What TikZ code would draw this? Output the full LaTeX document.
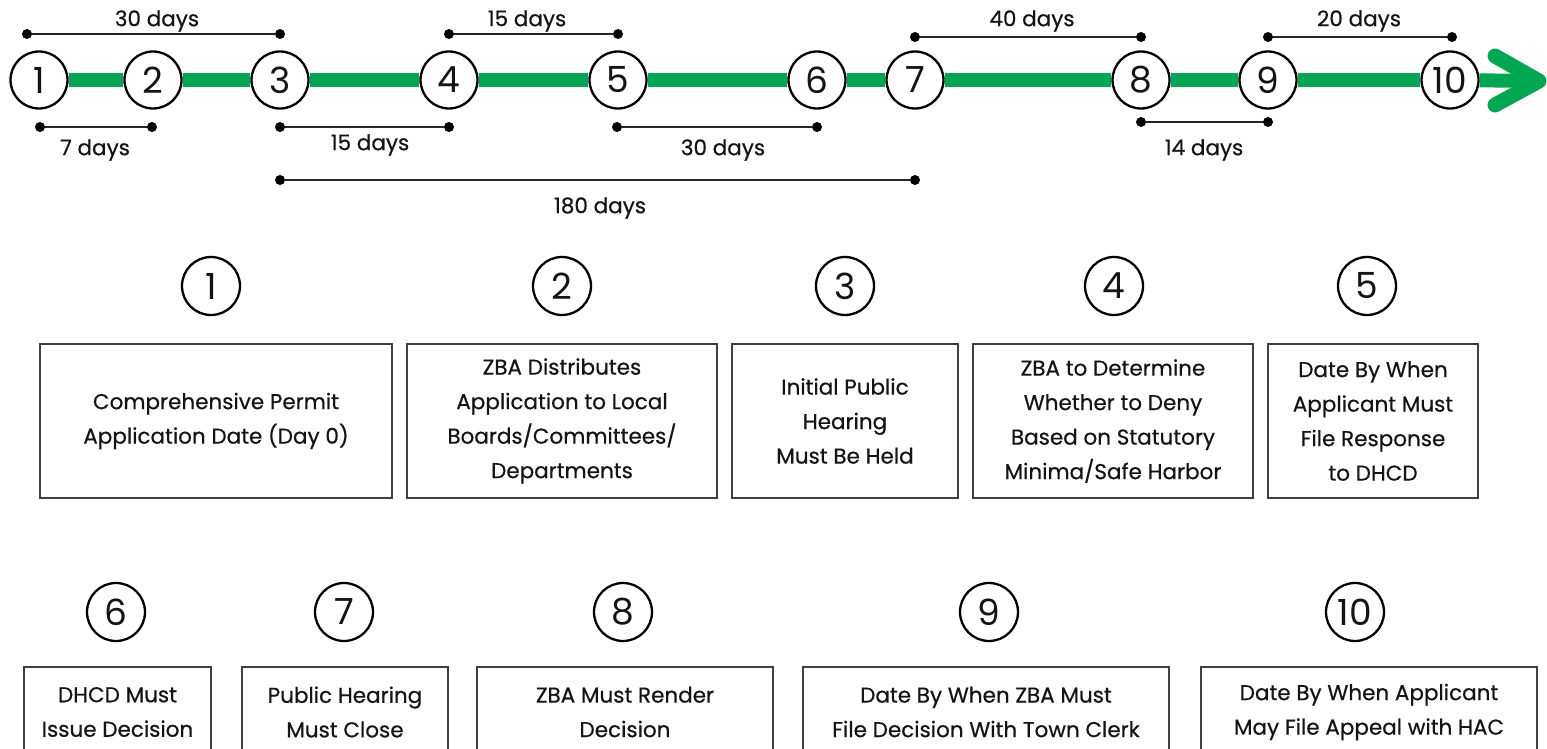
\documentclass[tikz,border=0pt]{standalone}
\usepackage{fontspec}
\setmainfont{Poppins}[FakeBold=0.5]
\newfontfamily\digitfont{Poppins}
\definecolor{tlgreen}{RGB}{0,166,81}
\definecolor{ink}{RGB}{20,20,20}
\begin{document}
\begin{tikzpicture}[x=1pt,y=-1pt,
  tl/.style={draw=black, line width=2.3pt, fill=white, circle, minimum size=57pt, inner sep=0pt, text=ink, font=\digitfont\fontsize{36}{36}\selectfont},
  num/.style={draw=black, line width=2.3pt, circle, minimum size=58pt, inner sep=0pt, text=ink, font=\digitfont\fontsize{36}{36}\selectfont},
  lab/.style={font=\fontsize{21.5}{24}\selectfont, text=ink},
  box/.style={draw=black!75, line width=1.6pt, align=center, inner sep=0pt, text=ink, font=\fontsize{21.5}{34.5}\selectfont},
  dimline/.style={line width=1.8pt, draw=black!85},
  dot/.style={circle, fill=black, inner sep=0pt, minimum size=10pt},
  green line/.style={draw=tlgreen, line width=14pt}
]
\useasboundingbox (0,0) rectangle (1547,749);

% ---------- timeline ----------
\node[tl] (c1) at (39,80) {1};
\node[tl] (c2) at (153,80) {2};
\node[tl] (c3) at (280,80) {3};
\node[tl] (c4) at (449,80) {4};
\node[tl] (c5) at (618,80) {5};
\node[tl] (c6) at (817,80) {6};
\node[tl] (c7) at (915,80) {7};
\node[tl] (c8) at (1141,80) {8};
\node[tl] (c9) at (1268,80) {9};
\node[tl] (c10) at (1450,80) {10};
\coordinate (tip) at (1539,81);
\coordinate (armA) at (1495,56);
\coordinate (armB) at (1495,105);
\draw[green line] (c1) -- (c2);
\draw[green line] (c2) -- (c3);
\draw[green line] (c3) -- (c4);
\draw[green line] (c4) -- (c5);
\draw[green line] (c5) -- (c6);
\draw[green line] (c6) -- (c7);
\draw[green line] (c7) -- (c8);
\draw[green line] (c8) -- (c9);
\draw[green line] (c9) -- (c10);
\draw[green line] (c10) -- (tip);
\draw[green line, line width=15pt, line cap=round, line join=round] (armA) -- (tip) -- (armB);

% ---------- duration bars ----------
\node[dot] (a1) at (27,34) {};   \node[dot] (a2) at (280,34) {};
\node[dot] (b1) at (449,34) {};  \node[dot] (b2) at (618,34) {};
\node[dot] (e1) at (915,37) {};  \node[dot] (e2) at (1141,37) {};
\node[dot] (f1) at (1268,37) {}; \node[dot] (f2) at (1452,37) {};
\node[dot] (g1) at (40,127) {};  \node[dot] (g2) at (152,127) {};
\node[dot] (h1) at (280,127) {}; \node[dot] (h2) at (449,127) {};
\node[dot] (i1) at (617,127) {}; \node[dot] (i2) at (817,127) {};
\node[dot] (j1) at (1141,122) {};\node[dot] (j2) at (1268,122) {};
\node[dot] (k1) at (280,180) {}; \node[dot] (k2) at (915,180) {};
\draw[dimline] (a1) -- (a2);
\draw[dimline] (b1) -- (b2);
\draw[dimline] (e1) -- (e2);
\draw[dimline] (f1) -- (f2);
\draw[dimline] (g1) -- (g2);
\draw[dimline] (h1) -- (h2);
\draw[dimline] (i1) -- (i2);
\draw[dimline] (j1) -- (j2);
\draw[dimline] (k1) -- (k2);
\node[lab] (la) at (157,21) {30 days};
\node[lab] (lb) at (527,21) {15 days};
\node[lab] (le) at (1032,21) {40 days};
\node[lab] (lf) at (1359,21) {20 days};
\node[lab] (lg) at (95,150) {7 days};
\node[lab] (lh) at (370,145) {15 days};
\node[lab] (li) at (723,150) {30 days};
\node[lab] (lj) at (1204,150) {14 days};
\node[lab] (lk) at (600,208) {180 days};

% ---------- first row of descriptions ----------
\node[num] (n1) at (211,286) {1};
\node[num] (n2) at (562,286) {2};
\node[num] (n3) at (845,286) {3};
\node[num] (n4) at (1114,286) {4};
\node[num] (n5) at (1367,286) {5};
\node[box, minimum width=352pt, minimum height=154pt] (b1box) at (216,421) {Comprehensive Permit\\Application Date (Day 0)};
\node[box, minimum width=310pt, minimum height=154pt] (b2box) at (562,421) {ZBA Distributes\\Application to Local\\Boards/Committees/\\Departments};
\node[box, minimum width=226pt, minimum height=154pt] (b3box) at (845,421) {Initial Public\\Hearing\\Must Be Held};
\node[box, minimum width=280pt, minimum height=154pt] (b4box) at (1113,421) {ZBA to Determine\\Whether to Deny\\Based on Statutory\\Minima/Safe Harbor};
\node[box, minimum width=210pt, minimum height=154pt] (b5box) at (1373,421) {Date By When\\Applicant Must\\File Response\\to DHCD};

% ---------- second row of descriptions ----------
\node[num] (n6) at (116,612) {6};
\node[num] (n7) at (344,612) {7};
\node[num] (n8) at (623,612) {8};
\node[num] (n9) at (989,612) {9};
\node[num] (n10) at (1355,612) {10};
\begin{scope}
\clip (0,0) rectangle (1547,749);
\node[box, minimum width=187pt, minimum height=90pt] (b6box) at (117.5,712) {DHCD Must\\Issue Decision};
\node[box, minimum width=206pt, minimum height=90pt] (b7box) at (345,712) {Public Hearing\\Must Close};
\node[box, minimum width=296pt, minimum height=90pt] (b8box) at (625,712) {ZBA Must Render\\Decision};
\node[box, minimum width=366pt, minimum height=90pt] (b9box) at (986,712) {Date By When ZBA Must\\File Decision With Town Clerk};
\node[box, minimum width=336pt, minimum height=90pt] (b10box) at (1369,712) {Date By When Applicant\\May File Appeal with HAC};
\end{scope}
\end{tikzpicture}
\end{document}
